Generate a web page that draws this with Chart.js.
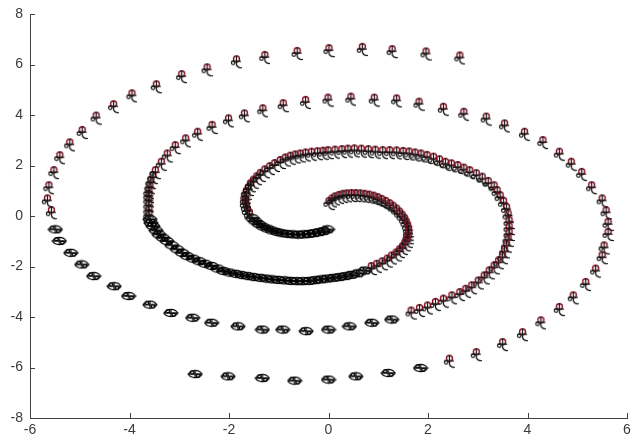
<!DOCTYPE html>
<html>
<head>
<meta charset="utf-8">
<script src="https://cdn.jsdelivr.net/npm/chart.js@4"></script>
<style>
  html, body { margin: 0; padding: 0; background: #ffffff; }
  #wrap { width: 634px; height: 441px; }
</style>
</head>
<body>
<div id="wrap"><canvas id="spiral-chart" width="634" height="441"></canvas></div>
<script>
// axis ticks
const xTicks = [-6, -4, -2, 0, 2, 4, 6];
const yTicks = [-8, -6, -4, -2, 0, 2, 4, 6, 8];

// spiral A (starts near 0,0.5) - red part, inner turn
const redInnerA = [
  [0.00,0.50],[0.06,0.60],[0.12,0.68],[0.20,0.74],[0.28,0.78],[0.36,0.80],[0.45,0.81],[0.54,0.81],
  [0.63,0.80],[0.72,0.78],[0.81,0.75],[0.90,0.71],[0.98,0.65],[1.06,0.58],[1.14,0.50],[1.22,0.41],
  [1.29,0.31],[1.36,0.20],[1.42,0.08],[1.47,-0.04],[1.52,-0.17],[1.55,-0.30],[1.58,-0.44],[1.60,-0.58],
  [1.60,-0.72],[1.59,-0.86],[1.57,-1.00],[1.53,-1.14],[1.48,-1.28],[1.42,-1.41],[1.35,-1.54],[1.26,-1.66],
  [1.17,-1.78],[1.07,-1.89],[0.96,-1.99],[0.85,-2.08]
];
// spiral A - black part, middle turn
const blackMidA = [
  [0.73,-2.16],[0.59,-2.27],[0.46,-2.33],[0.34,-2.38],[0.22,-2.42],[0.10,-2.45],[-0.03,-2.48],[-0.15,-2.51],
  [-0.27,-2.54],[-0.39,-2.57],[-0.52,-2.58],[-0.64,-2.58],[-0.76,-2.57],[-0.88,-2.55],[-1.01,-2.53],[-1.13,-2.51],
  [-1.25,-2.48],[-1.37,-2.45],[-1.50,-2.42],[-1.62,-2.38],[-1.74,-2.34],[-1.86,-2.29],[-1.99,-2.24],[-2.11,-2.18],
  [-2.23,-2.08],[-2.35,-1.98],[-2.48,-1.89],[-2.60,-1.79],[-2.72,-1.69],[-2.84,-1.59],[-2.94,-1.46],[-3.04,-1.32],
  [-3.15,-1.16],[-3.25,-0.99],[-3.33,-0.86],[-3.41,-0.73],[-3.47,-0.57],[-3.53,-0.40],[-3.57,-0.27],[-3.59,-0.13]
];
// spiral A - red part, outer turn
const redOuterA = [
  [-3.62,0.02],[-3.62,0.20],[-3.62,0.40],[-3.62,0.60],[-3.62,0.77],[-3.62,0.93],[-3.60,1.12],[-3.58,1.32],
  [-3.54,1.52],[-3.49,1.72],[-3.37,2.05],[-3.25,2.38],[-3.09,2.71],[-2.88,2.98],[-2.64,3.24],[-2.35,3.51],
  [-2.02,3.77],[-1.70,3.97],[-1.33,4.17],[-0.92,4.37],[-0.47,4.50],[-0.02,4.59],[0.44,4.63],[0.91,4.59],
  [1.36,4.56],[1.81,4.43],[2.30,4.23],[2.71,4.03],[3.16,3.84],[3.53,3.57],[3.93,3.24],[4.30,2.91],
  [4.63,2.45],[4.87,2.05],[5.08,1.65],[5.28,1.12],[5.49,0.60],[5.57,0.13],[5.61,-0.33],[5.61,-0.73],
  [5.53,-1.26],[5.49,-1.65],[5.36,-2.18],[5.16,-2.71],[4.91,-3.24],[4.63,-3.70],[4.26,-4.23],[3.89,-4.70],
  [3.49,-5.09],[2.96,-5.49],[2.42,-5.75]
];
// spiral A - black tail at the bottom
const blackOuterA = [
  [1.85,-6.02],[1.20,-6.22],[0.55,-6.35],[0.00,-6.48],[-0.68,-6.52],[-1.33,-6.42],[-2.02,-6.35],[-2.68,-6.26]
];

// spiral B (starts near 0,-0.5) - black part, inner turn
const blackInnerB = [
  [-0.02,-0.53],[-0.10,-0.60],[-0.19,-0.64],[-0.29,-0.68],[-0.39,-0.71],[-0.50,-0.73],[-0.61,-0.74],[-0.72,-0.73],
  [-0.83,-0.71],[-0.94,-0.68],[-1.04,-0.63],[-1.14,-0.57],[-1.23,-0.50],[-1.32,-0.42],[-1.40,-0.32],[-1.47,-0.21],
  [-1.53,-0.09]
];
// spiral B - red part, inner and middle turn
const redMidB = [
  [-1.60,0.05],[-1.64,0.18],[-1.66,0.32],[-1.68,0.46],[-1.68,0.60],[-1.67,0.75],[-1.66,0.90],[-1.62,1.05],
  [-1.58,1.20],[-1.52,1.34],[-1.45,1.48],[-1.38,1.61],[-1.29,1.75],[-1.19,1.88],[-1.09,2.00],[-0.98,2.12],
  [-0.88,2.22],[-0.78,2.29],[-0.68,2.34],[-0.58,2.38],[-0.47,2.42],[-0.35,2.45],[-0.23,2.47],[-0.12,2.49],
  [-0.02,2.51],[0.12,2.53],[0.26,2.55],[0.38,2.57],[0.51,2.58],[0.65,2.57],[0.79,2.55],[0.93,2.53],
  [1.08,2.51],[1.22,2.51],[1.36,2.50],[1.49,2.48],[1.61,2.46],[1.73,2.42],[1.85,2.38],[1.97,2.32],
  [2.10,2.25],[2.22,2.15],[2.34,2.05],[2.46,1.99],[2.59,1.92],[2.71,1.82],[2.83,1.72],[2.96,1.60],
  [3.08,1.46],[3.20,1.29],[3.32,1.12],[3.38,0.93],[3.44,0.73],[3.51,0.50],[3.57,0.26],[3.60,0.00],
  [3.62,-0.26],[3.62,-0.50],[3.62,-0.73],[3.60,-0.96],[3.57,-1.19],[3.53,-1.42],[3.49,-1.65],[3.41,-1.85],
  [3.32,-2.05],[3.22,-2.25],[3.12,-2.45],[3.00,-2.65],[2.87,-2.84],[2.75,-2.98],[2.63,-3.11],[2.47,-3.24],
  [2.30,-3.37],[2.14,-3.50],[1.98,-3.64],[1.82,-3.74],[1.65,-3.84]
];
// spiral B - black part, lower arc
const blackOuterB = [
  [1.27,-4.10],[0.87,-4.23],[0.42,-4.37],[0.00,-4.50],[-0.45,-4.56],[-0.92,-4.50],[-1.33,-4.50],[-1.82,-4.37],
  [-2.35,-4.23],[-2.73,-4.03],[-3.17,-3.84],[-3.59,-3.51],[-4.02,-3.17],[-4.31,-2.78],[-4.72,-2.38],[-4.96,-1.92],
  [-5.18,-1.46],[-5.41,-0.99],[-5.49,-0.53]
];
// spiral B - red part, outermost arc
const redOuterB = [
  [-5.58,0.13],[-5.66,0.60],[-5.63,1.12],[-5.53,1.72],[-5.41,2.31],[-5.21,2.82],[-4.96,3.31],[-4.68,3.88],
  [-4.33,4.33],[-3.96,4.76],[-3.47,5.12],[-2.96,5.52],[-2.45,5.79],[-1.86,6.11],[-1.29,6.28],[-0.64,6.44],
  [0.00,6.55],[0.67,6.60],[1.27,6.51],[1.95,6.42],[2.63,6.26]
];

const toXY = (arr) => arr.map(p => ({ x: p[0], y: p[1] }));
const redPoints = [].concat(redInnerA, redOuterA, redMidB, redOuterB);
const blackPoints = [].concat(blackMidA, blackOuterA, blackInnerB, blackOuterB);

// marker glyphs drawn once into small canvases
function redGlyph() {
  const c = document.createElement('canvas');
  c.width = 12; c.height = 15;
  const g = c.getContext('2d');
  g.lineCap = 'round';
  // top loop in dark red
  g.lineWidth = 1.4;
  g.strokeStyle = '#7e1022';
  g.beginPath(); g.arc(6.5, 4.8, 3, 0, Math.PI * 2); g.stroke();
  // stem, bar, side loop and tail
  g.lineWidth = 1.2;
  g.strokeStyle = '#141414';
  g.beginPath();
  g.moveTo(6.5, 1.5); g.lineTo(6.5, 10.5);
  g.moveTo(2, 7.2); g.lineTo(10.5, 7.2);
  g.moveTo(6.5, 10.5); g.quadraticCurveTo(7.5, 13.8, 11.5, 13.5);
  g.stroke();
  g.beginPath(); g.arc(3.2, 8.6, 1.8, 0, Math.PI * 2); g.stroke();
  return c;
}
function blackGlyph() {
  const c = document.createElement('canvas');
  c.width = 16; c.height = 10;
  const g = c.getContext('2d');
  g.lineWidth = 1.3;
  g.strokeStyle = '#000000';
  g.beginPath(); g.ellipse(8, 5, 6.4, 3.6, 0, 0, Math.PI * 2); g.stroke();
  g.beginPath();
  g.moveTo(0.5, 5); g.lineTo(15.5, 5);
  g.stroke();
  g.beginPath(); g.arc(5, 3.2, 1.6, 0, Math.PI * 2); g.stroke();
  g.beginPath(); g.arc(11, 6.8, 1.6, 0, Math.PI * 2); g.stroke();
  g.beginPath(); g.moveTo(8, 1.5); g.lineTo(8, 8.5); g.stroke();
  return c;
}

// inward tick marks like the classic plot axes
const innerTicks = {
  id: 'innerTicks',
  afterDraw(chart) {
    const ctx = chart.ctx;
    const xs = chart.scales.x, ys = chart.scales.y;
    const area = chart.chartArea;
    ctx.save();
    ctx.strokeStyle = '#404040';
    ctx.lineWidth = 1;
    ctx.beginPath();
    xTicks.forEach(v => {
      const px = Math.round(xs.getPixelForValue(v)) + 0.5;
      ctx.moveTo(px, area.bottom); ctx.lineTo(px, area.bottom - 5);
    });
    yTicks.forEach(v => {
      const py = Math.round(ys.getPixelForValue(v)) + 0.5;
      ctx.moveTo(area.left, py); ctx.lineTo(area.left + 5, py);
    });
    ctx.stroke();
    ctx.restore();
  }
};

const tickFont = { family: '"Liberation Sans", Arial, sans-serif', size: 14 };

new Chart(document.getElementById('spiral-chart').getContext('2d'), {
  type: 'scatter',
  data: {
    datasets: [
      { label: 'red', data: toXY(redPoints), pointStyle: redGlyph(), pointRadius: 6 },
      { label: 'black', data: toXY(blackPoints), pointStyle: blackGlyph(), pointRadius: 6 }
    ]
  },
  options: {
    responsive: false,
    animation: false,
    events: [],
    layout: { padding: { top: 14, right: 3, left: 0, bottom: 0 } },
    plugins: { legend: { display: false }, tooltip: { enabled: false } },
    scales: {
      x: {
        type: 'linear', min: -6, max: 6,
        afterBuildTicks: (s) => { s.ticks = xTicks.map(v => ({ value: v })); },
        afterFit: (s) => { s.height = 23; s.paddingLeft = 0; s.paddingRight = 0; },
        grid: { display: true, drawOnChartArea: false, drawTicks: false },
        border: { display: true, color: '#404040', width: 1 },
        ticks: { color: '#3a3a3a', font: tickFont, padding: 4, maxRotation: 0 }
      },
      y: {
        type: 'linear', min: -8, max: 8,
        afterBuildTicks: (s) => { s.ticks = yTicks.map(v => ({ value: v })); },
        afterFit: (s) => { s.width = 30; s.paddingTop = 0; s.paddingBottom = 0; },
        grid: { display: true, drawOnChartArea: false, drawTicks: false },
        border: { display: true, color: '#404040', width: 1 },
        ticks: { color: '#3a3a3a', font: tickFont, padding: 7 }
      }
    }
  },
  plugins: [innerTicks]
});
</script>
</body>
</html>
